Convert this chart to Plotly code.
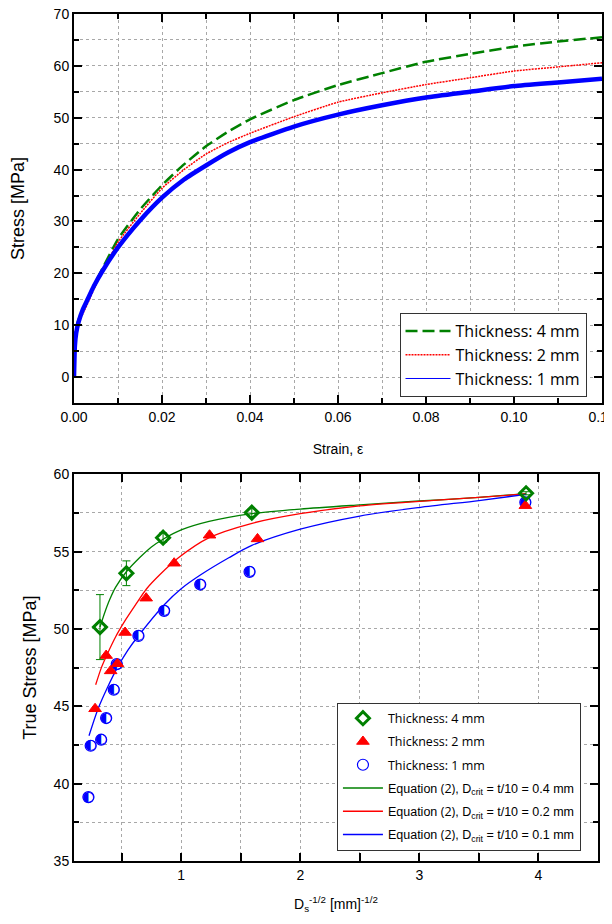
import plotly.graph_objects as go

# ---------------- Top panel: stress-strain curves ----------------
strain_4mm = [0.0, 0.0005, 0.001, 0.002, 0.003, 0.0045, 0.0065, 0.01, 0.015, 0.02, 0.025, 0.03,
              0.035, 0.04, 0.05, 0.06, 0.07, 0.08, 0.09, 0.10, 0.11, 0.12]
stress_4mm = [6.5, 9.5, 11.0, 12.9, 14.8, 17.6, 21.0, 26.6, 32.3, 37.0, 41.0, 44.5,
              47.3, 49.7, 53.4, 56.3, 58.6, 60.8, 62.3, 63.7, 64.7, 65.5]

strain_2mm = [0.0, 0.0005, 0.001, 0.002, 0.003, 0.0045, 0.0065, 0.01, 0.015, 0.02, 0.025, 0.03,
              0.035, 0.04, 0.05, 0.06, 0.07, 0.08, 0.09, 0.10, 0.11, 0.12]
stress_2mm = [7.5, 8.6, 10.2, 12.2, 14.0, 16.9, 20.4, 26.0, 31.5, 36.4, 40.0, 43.0,
              45.2, 47.0, 50.2, 53.0, 54.8, 56.4, 57.7, 59.0, 59.8, 60.6]

strain_1mm = [0.0, 0.0002, 0.0005, 0.001, 0.002, 0.003, 0.0045, 0.0065, 0.01, 0.015, 0.02, 0.025,
              0.03, 0.035, 0.04, 0.05, 0.06, 0.07, 0.08, 0.09, 0.10, 0.11, 0.12]
stress_1mm = [0.0, 6.0, 8.5, 10.5, 13.0, 14.8, 17.5, 20.5, 25.0, 30.2, 34.6, 38.1,
              40.8, 43.3, 45.3, 48.3, 50.6, 52.4, 53.9, 55.0, 56.1, 56.8, 57.5]

top_xticks = [0.0, 0.02, 0.04, 0.06, 0.08, 0.10, 0.12]
top_xtick_text = ["0.00", "0.02", "0.04", "0.06", "0.08", "0.10", "0.10"]

# ---------------- Bottom panel: true stress vs Ds^-1/2 ----------------
ds_4mm = [0.318, 0.54, 0.848, 1.593, 3.896]
ts_4mm = [50.12, 53.6, 55.9, 57.52, 58.77]
err_4mm = [2.1, 0.8, 0.3, 0.25, 0.1]

ds_2mm = [0.277, 0.370, 0.408, 0.465, 0.529, 0.706, 0.941, 1.238, 1.641, 3.89]
ts_2mm = [44.84, 48.28, 47.29, 47.75, 49.77, 51.99, 54.25, 56.06, 55.82, 57.97]

ds_1mm = [0.221, 0.240, 0.328, 0.370, 0.434, 0.459, 0.641, 0.857, 1.160, 1.574, 3.89]
ts_1mm = [39.13, 42.45, 42.84, 44.24, 46.07, 47.73, 49.55, 51.17, 52.87, 53.69, 58.19]

fit_x_04 = [0.318, 0.36, 0.40, 0.45, 0.54, 0.65, 0.75, 0.848, 1.0, 1.234, 1.593, 2.0, 2.5, 3.0, 3.5, 3.896]
fit_y_04 = [50.12, 51.1, 51.9, 52.7, 53.7, 54.6, 55.3, 55.8, 56.4, 56.95, 57.45, 57.75, 58.02, 58.27, 58.5, 58.75]

fit_x_02 = [0.282, 0.33, 0.375, 0.45, 0.534, 0.62, 0.71, 0.82, 0.977, 1.235, 1.58, 2.0, 2.5, 3.0, 3.5, 3.896]
fit_y_02 = [46.39, 47.5, 48.3, 49.5, 50.6, 51.6, 52.6, 53.5, 54.6, 55.9, 56.8, 57.45, 57.95, 58.25, 58.5, 58.73]

fit_x_01 = [0.226, 0.30, 0.38, 0.464, 0.55, 0.641, 0.862, 1.0, 1.164, 1.4, 1.593, 2.0, 2.5, 3.0, 3.5, 3.896]
fit_y_01 = [43.1, 44.8, 46.2, 47.5, 48.6, 49.56, 51.6, 52.6, 53.5, 54.6, 55.4, 56.45, 57.3, 57.85, 58.3, 58.7]

GREEN = "#008000"
RED = "#ff0000"
BLUE = "#0000ff"
AXFONT = "Liberation Sans, Arial, sans-serif"
GRIDC = "#a8a8a8"

fig = go.Figure()

# top panel traces
fig.add_trace(go.Scatter(x=strain_4mm, y=stress_4mm, mode="lines", name="Thickness: 4 mm",
                         line=dict(color=GREEN, width=2.5, dash="12px,5px", shape="spline", smoothing=0.5),
                         xaxis="x", yaxis="y", legend="legend"))
fig.add_trace(go.Scatter(x=strain_2mm, y=stress_2mm, mode="lines", name="Thickness: 2 mm",
                         line=dict(color=RED, width=1.5, dash="2px,1px", shape="spline", smoothing=0.5),
                         xaxis="x", yaxis="y", legend="legend"))
fig.add_trace(go.Scatter(x=strain_1mm, y=stress_1mm, mode="lines", name="Thickness: 1 mm",
                         line=dict(color=BLUE, width=4.5, shape="spline", smoothing=0.5), showlegend=False,
                         xaxis="x", yaxis="y", legend="legend"))
fig.add_trace(go.Scatter(x=strain_1mm, y=stress_1mm, mode="lines", name="Thickness: 1 mm",
                         line=dict(color=BLUE, width=1, shape="spline", smoothing=0.5),
                         xaxis="x", yaxis="y", legend="legend"))

# bottom panel fits
eq = ('<span style="font-family:Liberation Sans, Arial">Equation </span>(2)'
      '<span style="font-family:Liberation Sans, Arial">, D<sub>crit</sub> = t/10 = {} mm</span>')
fig.add_trace(go.Scatter(x=fit_x_04, y=fit_y_04, mode="lines", name=eq.format("0.4"),
                         line=dict(color=GREEN, width=1.3, shape="spline", smoothing=0.8),
                         xaxis="x2", yaxis="y2", legend="legend2", legendrank=4, legendgroup="g4"))
fig.add_trace(go.Scatter(x=fit_x_02, y=fit_y_02, mode="lines", name=eq.format("0.2"),
                         line=dict(color=RED, width=1.3, shape="spline", smoothing=0.8),
                         xaxis="x2", yaxis="y2", legend="legend2", legendrank=5, legendgroup="g5"))
fig.add_trace(go.Scatter(x=fit_x_01, y=fit_y_01, mode="lines", name=eq.format("0.1"),
                         line=dict(color=BLUE, width=1.3, shape="spline", smoothing=0.8),
                         xaxis="x2", yaxis="y2", legend="legend2", legendrank=6, legendgroup="g6"))

# bottom panel markers
fig.add_trace(go.Scatter(x=ds_1mm, y=ts_1mm, mode="markers", name="Thickness: 1 mm",
                         marker=dict(symbol="circle", size=11, color="white",
                                     line=dict(color=BLUE, width=1.2)),
                         xaxis="x2", yaxis="y2", legend="legend2", legendrank=3, legendgroup="g3"))
fig.add_trace(go.Scatter(x=ds_1mm, y=ts_1mm, mode="text", text=["◐"] * len(ds_1mm),
                         textposition="middle center", showlegend=False, hoverinfo="skip",
                         textfont=dict(family="DejaVu Sans", size=14, color=BLUE),
                         xaxis="x2", yaxis="y2", legend="legend2"))
fig.add_trace(go.Scatter(x=ds_2mm, y=ts_2mm, mode="markers", name="Thickness: 2 mm",
                         marker=dict(symbol="triangle-up", size=11, color=RED,
                                     line=dict(color=RED, width=1)),
                         xaxis="x2", yaxis="y2", legend="legend2", legendrank=2, legendgroup="g2"))
fig.add_trace(go.Scatter(x=ds_4mm, y=ts_4mm, mode="markers", name="Thickness: 4 mm",
                         marker=dict(symbol="diamond-open", size=10, color=GREEN,
                                     line=dict(color=GREEN, width=3)),
                         error_y=dict(type="data", array=err_4mm, color=GREEN, thickness=1, width=4),
                         xaxis="x2", yaxis="y2", legend="legend2", legendrank=1, legendgroup="g1"))

minor_style = dict(ticks="inside", tickwidth=1.5, tickcolor="black",
                   showgrid=True, gridcolor=GRIDC, griddash="dot", gridwidth=1)
common = dict(showline=True, linecolor="black", linewidth=2, mirror="ticks",
              ticks="inside", ticklen=8, tickwidth=1.5, tickcolor="black",
              tickfont=dict(family=AXFONT, size=14, color="black"),
              ticklabeloverflow="allow",
              zeroline=False, automargin=False,
              showgrid=True, gridcolor=GRIDC, gridwidth=1, griddash="dot")

fig.update_layout(
    width=604, height=916,
    margin=dict(l=66, r=10, t=6, b=63, autoexpand=False),
    paper_bgcolor="white", plot_bgcolor="white",
    font=dict(family=AXFONT, color="black"),
    xaxis=dict(domain=[0, 1], anchor="y", range=[0, 0.12],
               tickvals=top_xticks, ticktext=top_xtick_text,
               minor=dict(dtick=0.01, ticklen=5, **minor_style),
               title=dict(text="Strain, ε", font=dict(family=AXFONT, size=14), standoff=20),
               **common),
    yaxis=dict(domain=[0.5407, 1], anchor="x", range=[-5, 70], dtick=10, tick0=0,
               minor=dict(dtick=5, ticklen=5, **minor_style),
               title=dict(text="Stress [MPa]", font=dict(family=AXFONT, size=18), standoff=29),
               **common),
    xaxis2=dict(domain=[0, 0.9924], anchor="y2", range=[0.1, 4.5], dtick=1, tick0=0,
                minor=dict(dtick=0.5, ticklen=8, **minor_style),
                title=dict(text="D<sub>s</sub><sup>-1/2</sup> [mm]<sup>-1/2</sup>",
                           font=dict(family=AXFONT, size=14), standoff=17),
                **common),
    yaxis2=dict(domain=[0, 0.4566], anchor="x2", range=[35, 60], dtick=5, tick0=0,
                minor=dict(dtick=2.5, ticklen=5, **minor_style),
                title=dict(text="True Stress [MPa]", font=dict(family=AXFONT, size=18), standoff=12),
                **common),
    legend=dict(x=0.6165, y=0.647, xanchor="left", yanchor="top",
                bgcolor="white", bordercolor="#333333", borderwidth=1,
                font=dict(family="Open Sans", size=16, color="black"),
                itemwidth=45),
    legend2=dict(x=0.498, y=0.187, xanchor="left", yanchor="top",
                 bgcolor="white", bordercolor="#333333", borderwidth=1,
                 font=dict(family="Open Sans", size=12.5, color="black"),
                 tracegroupgap=4, traceorder="grouped", itemwidth=40),
)

fig.write_html("out.html")
